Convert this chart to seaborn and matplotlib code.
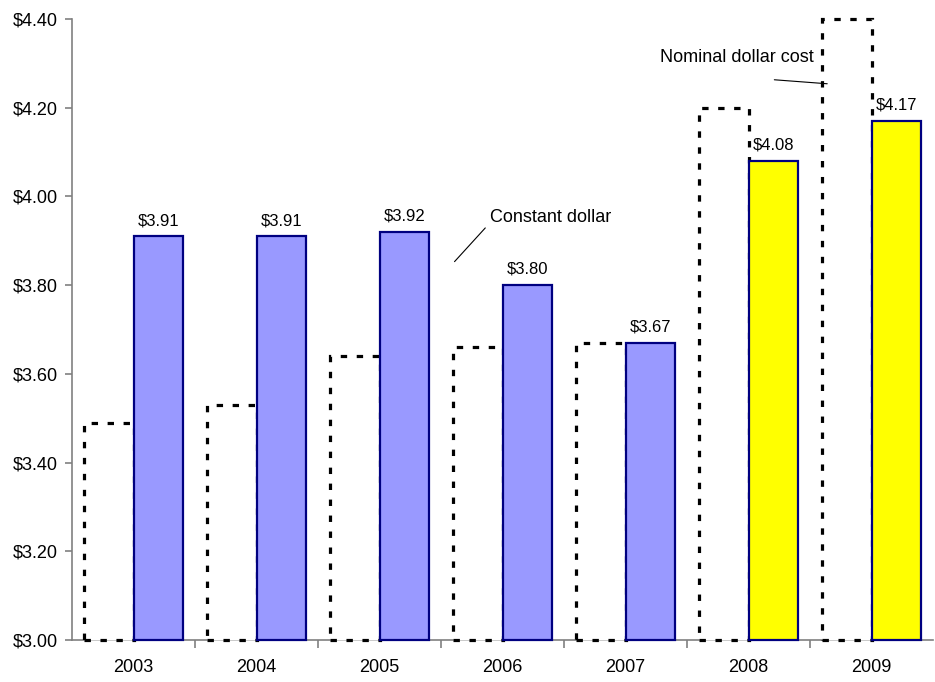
import matplotlib
matplotlib.use("Agg")
import matplotlib.pyplot as plt
from matplotlib.ticker import FixedLocator
import seaborn as sns
import pandas as pd

# Cost per unit, nominal vs. constant dollars
years = ["2003", "2004", "2005", "2006", "2007", "2008", "2009"]
nominal = [3.49, 3.53, 3.64, 3.66, 3.67, 4.20, 4.40]
constant = [3.91, 3.91, 3.92, 3.80, 3.67, 4.08, 4.17]
highlight_years = ["2008", "2009"]
y_ticks = [3.00, 3.20, 3.40, 3.60, 3.80, 4.00, 4.20, 4.40]
baseline = 3.00

sns.set_theme(style="white")
plt.rcParams["font.family"] = ["Liberation Sans", "DejaVu Sans"]
plt.rcParams["text.color"] = "black"

df = pd.DataFrame({
    "year": years * 2,
    "series": ["Nominal"] * len(years) + ["Constant"] * len(years),
    "value": nominal + constant,
})

fig = plt.figure(figsize=(9.35, 6.82), dpi=100)
ax = fig.add_axes([72 / 935, 42 / 682, 861 / 935, 621 / 682])

sns.barplot(data=df, x="year", y="value", hue="series",
            hue_order=["Nominal", "Constant"],
            palette=["white", "#9999FF"], saturation=1,
            width=0.81, legend=False, ax=ax)

n = len(years)
nom_bars = ax.patches[:n]
con_bars = ax.patches[n:2 * n]

# bars rise from the axis baseline
for p in ax.patches[:2 * n]:
    h = p.get_height()
    p.set_y(baseline)
    p.set_height(h - baseline)
    p.set_clip_on(False)
    p.set_zorder(3)

for p in nom_bars:
    p.set_facecolor("white")
    p.set_edgecolor("black")
    p.set_linewidth(2.3)
    p.set_linestyle((0, (2, 3)))

for p, yr, v in zip(con_bars, years, constant):
    p.set_facecolor("#FFFF00" if yr in highlight_years else "#9999FF")
    p.set_edgecolor("#000080")
    p.set_linewidth(1.6)
    p.set_zorder(4)
    ax.annotate(f"${v:.2f}", (p.get_x() + p.get_width() / 2, v),
                xytext=(0, 6), textcoords="offset points",
                ha="center", va="bottom", fontsize=12, color="black")

ax.set_ylim(baseline, 4.40)
ax.set_xlim(-0.5, n - 0.5)
ax.set_yticks(y_ticks)
ax.set_yticklabels([f"${t:.2f}" for t in y_ticks])
ax.set_xlabel("")
ax.set_ylabel("")

# spines / ticks
for side in ["top", "right"]:
    ax.spines[side].set_visible(False)
for side in ["left", "bottom"]:
    ax.spines[side].set_color("#808080")
    ax.spines[side].set_linewidth(1.2)

ax.tick_params(axis="y", which="major", left=True, length=5, width=1.2,
               color="#808080", labelsize=13, pad=5, labelcolor="black")
ax.tick_params(axis="x", which="major", bottom=False, length=0,
               labelsize=13, pad=14, labelcolor="black")
ax.xaxis.set_minor_locator(FixedLocator([i + 0.5 for i in range(n - 1)]))
ax.tick_params(axis="x", which="minor", bottom=True, length=6, width=1.2,
               color="#808080")

# callouts
ax.text(2.90, 3.952, "Constant dollar", fontsize=13, va="center", ha="left",
        color="black")
ax.plot([2.61, 2.86], [3.853, 3.929], color="black", lw=0.8, zorder=5)
ax.text(4.28, 4.313, "Nominal dollar cost", fontsize=13, va="center",
        ha="left", color="black")
ax.plot([5.21, 5.64], [4.263, 4.254], color="black", lw=0.8, zorder=5)

fig.savefig("out.png", dpi=100)
